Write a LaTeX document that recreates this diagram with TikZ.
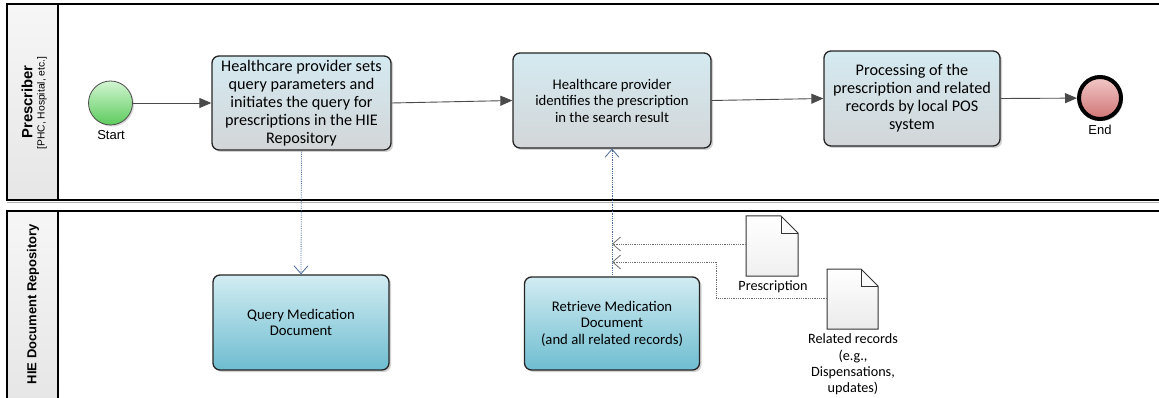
\documentclass[tikz,border=0pt]{standalone}
\usepackage{fontspec}
\setmainfont{Carlito}
\newfontfamily\arialf{Liberation Sans}
\usetikzlibrary{arrows.meta,shadows}
\definecolor{flowgray}{HTML}{4A4A4A}
\definecolor{msgblue}{HTML}{4A6A9A}
\definecolor{assocgray}{HTML}{707070}
\definecolor{hdrtop}{HTML}{F6F6F6}
\definecolor{hdrbot}{HTML}{E6E6E6}
\definecolor{taskAtop}{HTML}{D4EAF1}
\definecolor{taskAbot}{HTML}{D3D6D8}
\definecolor{taskBtop}{HTML}{D2ECF2}
\definecolor{taskBbot}{HTML}{6EBDD0}
\definecolor{starttop}{HTML}{D2F5D2}
\definecolor{startbot}{HTML}{5CCB5C}
\definecolor{endtop}{HTML}{F2C8C8}
\definecolor{endbot}{HTML}{D07474}
\tikzset{
  lanebox/.style={draw=black, line width=1.2pt},
  lanehdr/.style={draw=black, line width=1.2pt, top color=hdrtop, bottom color=hdrbot},
  taskbase/.style={rectangle, rounded corners=7pt, draw=black!85, line width=1.3pt,
     align=center, inner sep=0pt,
     drop shadow={shadow xshift=2pt, shadow yshift=-2pt, fill=black!35}},
  bigtxt/.style={font=\fontsize{16.2}{18}\selectfont},
  midtxt/.style={font=\fontsize{14.7}{16.5}\selectfont},
  taskA/.style={taskbase, top color=taskAtop, bottom color=taskAbot},
  taskB/.style={taskbase, top color=taskBtop, bottom color=taskBbot},
  evstart/.style={circle, draw=black!70, line width=0.8pt, top color=starttop, bottom color=startbot,
     minimum size=44pt, inner sep=0pt, drop shadow={shadow xshift=1.5pt, shadow yshift=-1.5pt, fill=black!30}},
  evend/.style={circle, draw=black, line width=4pt, top color=endtop, bottom color=endbot,
     minimum size=42pt, inner sep=0pt, drop shadow={shadow xshift=2pt, shadow yshift=-2pt, fill=black!30}},
  evlabel/.style={font=\arialf\fontsize{13}{15}\selectfont},
  seqflow/.style={draw=flowgray, line width=0.9pt, -{Triangle[length=12pt,width=10pt]}},
  msgflow/.style={draw=msgblue, line width=0.8pt, densely dotted, -{Straight Barb[length=8pt,width=14pt,line width=0.8pt]}},
  assocflow/.style={draw=assocgray, line width=0.8pt, densely dotted, -{Straight Barb[length=8pt,width=14pt,line width=0.8pt]}},
  doclabel/.style={align=center, font=\fontsize{14.2}{16.4}\selectfont}
}
\begin{document}
\begin{tikzpicture}[x=1pt,y=-1pt]
\useasboundingbox (0,0) rectangle (1159,398);
\fill[white] (0,0) rectangle (1159,398);
% lanes
\draw[black!30, line width=1pt] (7,202.5) -- (1165,202.5);
\draw[lanebox] (7,4) rectangle (1165,200);
\draw[lanehdr] (7,4) rectangle (58,200);
\fill[top color=hdrtop, bottom color=hdrbot] (7.6,211.6) rectangle (57.4,402);
\draw[lanebox] (1165,211) -- (7,211) -- (7,402) (58,211) -- (58,402);
\node[rotate=90, font=\arialf\bfseries\fontsize{14.8}{17}\selectfont] (lane1) at (27,102) {Prescriber};
\node[rotate=90, font=\arialf\fontsize{10.3}{12}\selectfont] (lane1b) at (42,103) {[PHC, Hospital, etc.]};
\node[rotate=90, font=\arialf\bfseries\fontsize{13}{15}\selectfont] (lane2) at (33,304) {HIE Document Repository};
% events
\node[evstart] (start) at (110.5,103) {};
\node[evlabel] (startlbl) at (111,135) {Start};
\node[evend] (end) at (1100,98) {};
\node[evlabel] (endlbl) at (1100,130) {End};
% tasks
\node[taskA, bigtxt, minimum width=179pt, minimum height=94pt] (t1) at (301.5,103)
  {Healthcare provider sets\\query parameters and\\initiates the query for\\prescriptions in the HIE\\Repository};
\node[taskA, midtxt, minimum width=198pt, minimum height=95pt] (t2) at (612,100.5)
  {Healthcare provider\\identifies the prescription\\in the search result};
\node[taskA, bigtxt, minimum width=176pt, minimum height=95pt] (t3) at (912,98.5)
  {Processing of the\\prescription and related\\records by local POS\\system};
\node[taskB, midtxt, minimum width=176pt, minimum height=95pt] (q) at (301,322.5)
  {Query Medication\\Document};
\node[taskB, midtxt, minimum width=175pt, minimum height=93pt] (r) at (612,323.5)
  {Retrieve Medication\\Document\\(and all related records)};
% documents
\draw[black!80, line width=1pt, top color=white, bottom color=black!6]
  (746,216) -- (781,216) -- (798,233) -- (798,276) -- (746,276) -- cycle;
\draw[black!80, line width=0.8pt] (781,216) -- (781,233) -- (798,233);
\coordinate (presc) at (746,244);
\node[doclabel] (presclbl) at (773,287) {Prescription};
\draw[black!80, line width=1pt, top color=white, bottom color=blue!5!black!8]
  (827,269) -- (861,269) -- (878,286) -- (878,329) -- (827,329) -- cycle;
\draw[black!80, line width=0.8pt] (861,269) -- (861,286) -- (878,286);
\coordinate (relrec) at (827,298);
\node[doclabel] (rellbl) at (853,364.5) {Related records\\(e.g.,\\Dispensations,\\updates)};
% flows
\draw[seqflow] (start) -- (t1);
\draw[seqflow] (t1.east) -- (t2.west);
\draw[seqflow] (t2.east) -- (t3.west);
\draw[seqflow] (t3.east) -- (end);
\draw[msgflow] (t1.south) -- (q.north);
\draw[msgflow] (r.north) -- (t2.south);
\coordinate (in1) at (612,244);
\coordinate (in2) at (612,262);
\coordinate (bend) at (716,298);
\draw[assocflow] (presc) -- (in1);
\draw[assocflow] (relrec) -- (bend) -- (bend |- in2) -- (in2);
\end{tikzpicture}
\end{document}
